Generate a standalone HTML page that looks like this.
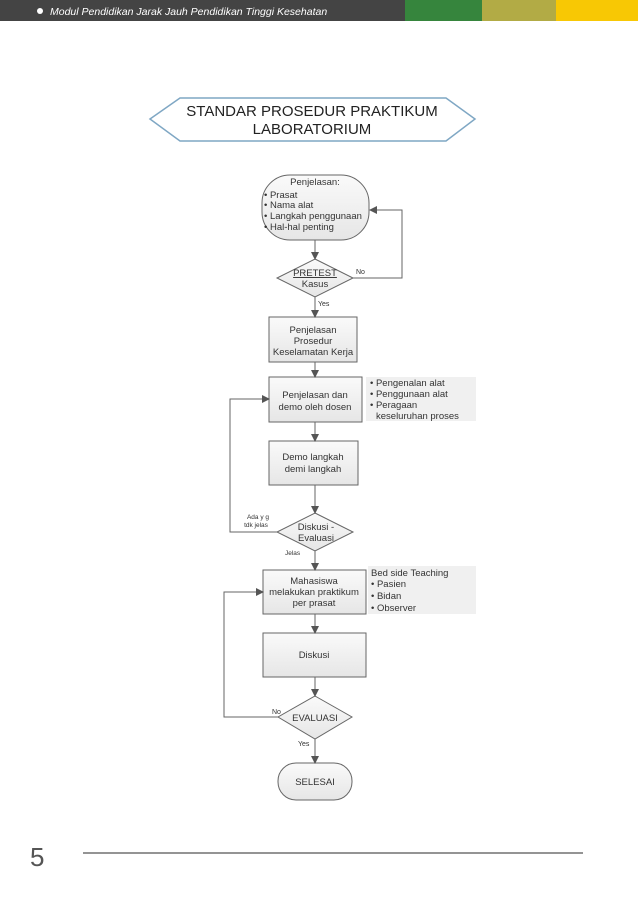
<!DOCTYPE html>
<html><head><meta charset="utf-8"><style>
body{margin:0;width:638px;height:903px;background:#fff;overflow:hidden;font-family:"Liberation Sans",Arial,sans-serif}
</style></head><body>
<svg width="638" height="903" viewBox="0 0 638 903" xmlns="http://www.w3.org/2000/svg" font-family="Liberation Sans, Arial, sans-serif">
<defs>
<linearGradient id="g" x1="0" y1="0" x2="0" y2="1"><stop offset="0" stop-color="#fafafa"/><stop offset="1" stop-color="#e6e6e6"/></linearGradient>
<marker id="a" markerWidth="8" markerHeight="8" refX="7" refY="4" orient="auto" markerUnits="userSpaceOnUse"><path d="M0,0 L8,4 L0,8 z" fill="#555"/></marker>
</defs>
<rect x="0" y="0" width="405" height="21" fill="#444"/>
<rect x="405" y="0" width="77" height="21" fill="#36853d"/>
<rect x="482" y="0" width="74" height="21" fill="#b2ab45"/>
<rect x="556" y="0" width="82" height="21" fill="#f8c804"/>
<circle cx="40" cy="11" r="3" fill="#fff"/>
<text x="50" y="15" font-size="10.5" font-style="italic" fill="#fff">Modul Pendidikan Jarak Jauh Pendidikan Tinggi Kesehatan</text>

<polygon points="150,119 180,98 446,98 475,119 446,141 180,141" fill="#fff" stroke="#7fa7c4" stroke-width="1.5"/>
<text x="312" y="116" font-size="15" text-anchor="middle" fill="#222">STANDAR PROSEDUR PRAKTIKUM</text>
<text x="312" y="134" font-size="15" text-anchor="middle" fill="#222">LABORATORIUM</text>

<g stroke="#666" stroke-width="1" fill="url(#g)">
<rect x="262" y="175" width="107" height="65" rx="28"/>
<polygon points="315,259 353,278 315,297 277,278"/>
<rect x="269" y="317" width="88" height="45"/>
<rect x="269" y="377" width="93" height="45"/>
<rect x="269" y="441" width="89" height="44"/>
<polygon points="315,513 353,532 315,551 277,532"/>
<rect x="263" y="570" width="103" height="44"/>
<rect x="263" y="633" width="103" height="44"/>
<polygon points="315,696 352,717 315,739 278,717"/>
<rect x="278" y="763" width="74" height="37" rx="18"/>
</g>
<rect x="366" y="377" width="110" height="44" fill="#f0f0f0"/>
<rect x="368" y="566" width="108" height="48" fill="#f0f0f0"/>

<g stroke="#666" stroke-width="1" fill="none" marker-end="url(#a)">
<line x1="315" y1="240" x2="315" y2="259"/>
<polyline points="353,278 402,278 402,210 370,210"/>
<line x1="315" y1="297" x2="315" y2="317"/>
<line x1="315" y1="362" x2="315" y2="377"/>
<line x1="315" y1="422" x2="315" y2="441"/>
<line x1="315" y1="485" x2="315" y2="513"/>
<polyline points="277,532 230,532 230,399 269,399"/>
<line x1="315" y1="551" x2="315" y2="570"/>
<line x1="315" y1="614" x2="315" y2="633"/>
<line x1="315" y1="677" x2="315" y2="696"/>
<polyline points="278,717 224,717 224,592 263,592"/>
<line x1="315" y1="739" x2="315" y2="763"/>
</g>

<g font-size="9.5" fill="#333">
<text x="315" y="185" text-anchor="middle">Penjelasan:</text>
<text x="264" y="198">• Prasat</text>
<text x="264" y="208">• Nama alat</text>
<text x="264" y="219">• Langkah penggunaan</text>
<text x="264" y="230">• Hal-hal penting</text>
<text x="315" y="276" text-anchor="middle" text-decoration="underline">PRETEST</text>
<text x="315" y="287" text-anchor="middle">Kasus</text>
<text x="356" y="274" font-size="7">No</text>
<text x="318" y="306" font-size="7">Yes</text>
<text x="313" y="333" text-anchor="middle">Penjelasan</text>
<text x="313" y="344" text-anchor="middle">Prosedur</text>
<text x="313" y="355" text-anchor="middle">Keselamatan Kerja</text>
<text x="315" y="398" text-anchor="middle">Penjelasan dan</text>
<text x="315" y="410" text-anchor="middle">demo oleh dosen</text>
<text x="370" y="386">• Pengenalan alat</text>
<text x="370" y="397">• Penggunaan alat</text>
<text x="370" y="408">• Peragaan</text>
<text x="376" y="419">keseluruhan proses</text>
<text x="313" y="460" text-anchor="middle">Demo langkah</text>
<text x="313" y="472" text-anchor="middle">demi langkah</text>
<text x="258" y="519" font-size="6.5" text-anchor="middle">Ada y g</text>
<text x="256" y="527" font-size="6.5" text-anchor="middle">tdk jelas</text>
<text x="316" y="530" text-anchor="middle">Diskusi -</text>
<text x="316" y="541" text-anchor="middle">Evaluasi</text>
<text x="285" y="555" font-size="6.5">Jelas</text>
<text x="314" y="584" text-anchor="middle">Mahasiswa</text>
<text x="314" y="595" text-anchor="middle">melakukan praktikum</text>
<text x="314" y="606" text-anchor="middle">per prasat</text>
<text x="371" y="576">Bed side Teaching</text>
<text x="371" y="587">• Pasien</text>
<text x="371" y="599">• Bidan</text>
<text x="371" y="611">• Observer</text>
<text x="314" y="658" text-anchor="middle">Diskusi</text>
<text x="272" y="714" font-size="7">No</text>
<text x="315" y="721" text-anchor="middle">EVALUASI</text>
<text x="298" y="746" font-size="7">Yes</text>
<text x="315" y="785" text-anchor="middle">SELESAI</text>
</g>

<text x="30" y="866" font-size="26" fill="#555">5</text>
<line x1="83" y1="853" x2="583" y2="853" stroke="#555" stroke-width="1.2"/>
</svg>
</body></html>
